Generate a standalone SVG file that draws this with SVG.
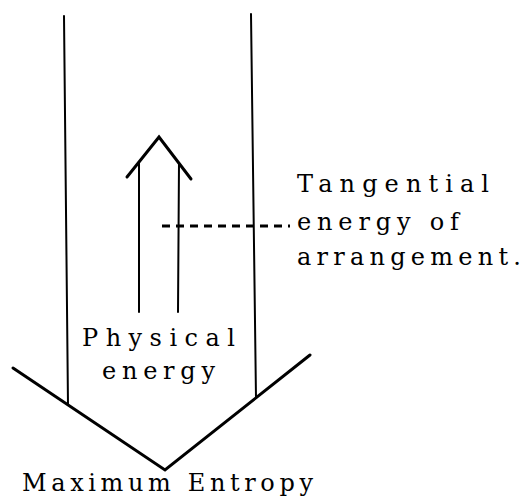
<svg xmlns="http://www.w3.org/2000/svg" width="525" height="497" viewBox="0 0 525 497">
<style>
.t{font-family:"DejaVu Serif","Liberation Serif",serif;font-size:24px;fill:#000}
.thin{stroke:#000;stroke-width:2;fill:none;stroke-linecap:round}
.thick{stroke:#000;stroke-width:3;fill:none;stroke-linecap:round;stroke-linejoin:miter}
</style>
<rect width="525" height="497" fill="#fff"/>
<g id="channel">
<line class="thin" x1="64" y1="16" x2="68" y2="405"/>
<line class="thin" x1="251" y1="14" x2="256" y2="398"/>
</g>
<g id="physical-energy-arrow">
<line class="thin" x1="139" y1="163" x2="139" y2="312"/>
<line class="thin" x1="179" y1="163" x2="178" y2="312"/>
<polyline class="thick" points="127,177 159,137 191,179"/>
</g>
<g id="maximum-entropy-v">
<polyline class="thick" points="13,368 165,470 310,355"/>
</g>
<g id="connectors">
<line x1="162" y1="226" x2="290" y2="226" stroke="#000" stroke-width="3" stroke-dasharray="8,6"/>
</g>
<g id="label-tangential">
<text class="t" x="297" y="192" textLength="192" lengthAdjust="spacing">Tangential</text>
<text class="t" x="297" y="230" textLength="162" lengthAdjust="spacing">energy of</text>
<text class="t" x="297" y="265" textLength="224" lengthAdjust="spacing">arrangement.</text>
</g>
<g id="label-physical">
<text class="t" x="82" y="346" textLength="153" lengthAdjust="spacing">Physical</text>
<text class="t" x="102" y="379" textLength="113" lengthAdjust="spacing">energy</text>
</g>
<g id="label-entropy">
<text class="t" x="22" y="491" textLength="291" lengthAdjust="spacing">Maximum Entropy</text>
</g>
</svg>
